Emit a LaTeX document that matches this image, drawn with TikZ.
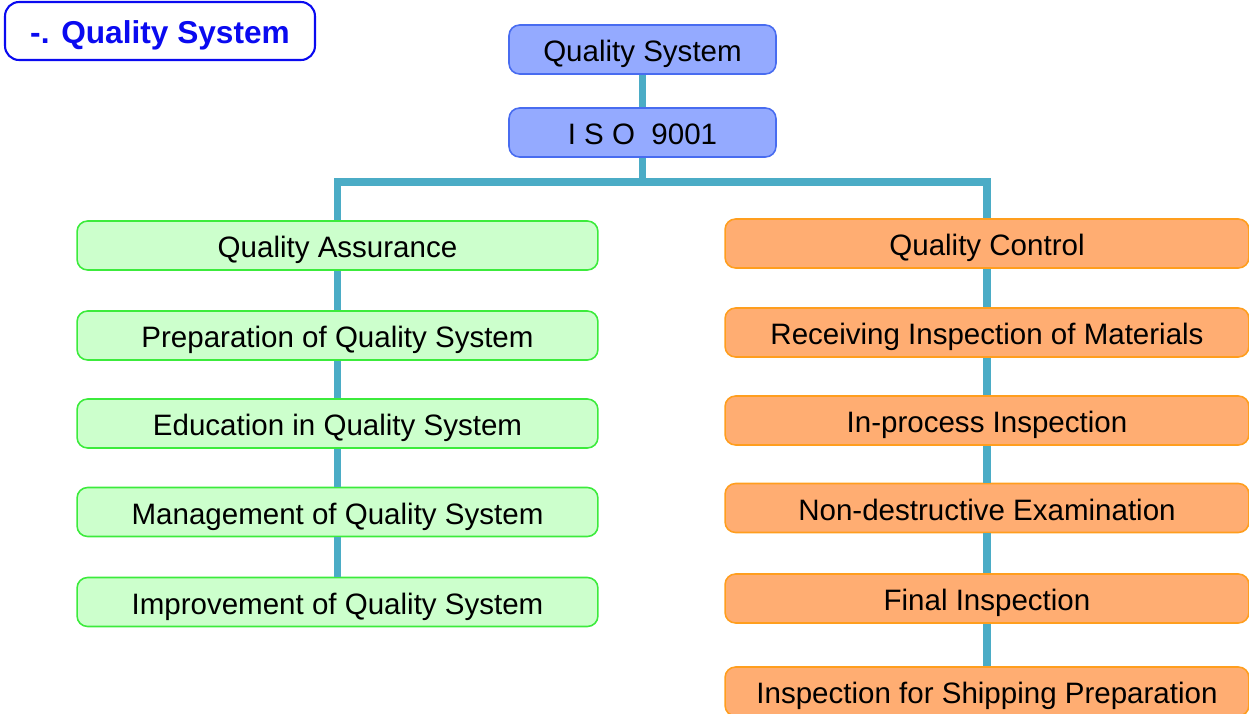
\documentclass[tikz,border=0pt]{standalone}
\usepackage{fontspec}
\setmainfont{Liberation Sans}
\usepackage{tikz}
\usetikzlibrary{calc}
\definecolor{topfill}{RGB}{148,170,255}
\definecolor{topline}{RGB}{72,108,240}
\definecolor{qafill}{RGB}{204,255,204}
\definecolor{qaline}{RGB}{60,235,60}
\definecolor{qcfill}{RGB}{255,173,114}
\definecolor{qcline}{RGB}{255,158,30}
\definecolor{linkcol}{RGB}{75,172,198}
\definecolor{titlecol}{RGB}{10,10,240}
\tikzset{
  box/.style={rectangle,rounded corners=6pt,line width=0.9pt,minimum height=0.98cm,
    font=\fontsize{16.8}{20}\selectfont,inner sep=0pt,text height=18pt,text depth=4pt},
  topbox/.style={box,fill=topfill,draw=topline,minimum width=5.34cm},
  qabox/.style={box,fill=qafill,draw=qaline,minimum width=10.42cm},
  qcbox/.style={box,fill=qcfill,draw=qcline,minimum width=10.48cm},
  link/.style={draw=linkcol,line width=4pt},
  title/.style={rectangle,rounded corners=8pt,draw=titlecol,line width=1.2pt,fill=white,
    minimum width=6.2cm,minimum height=1.16cm,text=titlecol,inner sep=0pt,
    text height=18pt,text depth=4pt,font=\fontsize{18}{22}\selectfont\bfseries}
}
\begin{document}
\begin{tikzpicture}[x=0.02cm,y=-0.02cm]
  \useasboundingbox (0,0) rectangle (1249,714);
  \node[title] (head) at (160,31) {-. Quality System};
  \node[topbox] (qs) at (642.5,49.5) {Quality System};
  \node[topbox] (iso) at (642.5,132.5) {I S O \ 9001};
  \node[qabox] (qa) at (337.5,245.5) {Quality Assurance};
  \node[qabox] (qa1) at (337.5,335.5) {Preparation of Quality System};
  \node[qabox] (qa2) at (337.5,423.5) {Education in Quality System};
  \node[qabox] (qa3) at (337.5,512) {Management of Quality System};
  \node[qabox] (qa4) at (337.5,602) {Improvement of Quality System};
  \node[qcbox] (qc) at (987,243.5) {Quality Control};
  \node[qcbox] (qc1) at (987,332.5) {Receiving Inspection of Materials};
  \node[qcbox] (qc2) at (987,420.5) {In-process Inspection};
  \node[qcbox] (qc3) at (987,508) {Non-destructive Examination};
  \node[qcbox] (qc4) at (987,598.5) {Final Inspection};
  \node[qcbox] (qc5) at (987,691.5) {Inspection for Shipping Preparation};
  \coordinate (bar) at (642.5,182);
  \draw[link] (qs) -- (iso);
  \draw[link] (iso) -- (bar);
  \draw[link] (qa) -- (qa |- bar) -- (qc |- bar) -- (qc);
  \foreach \a/\b in {qa/qa1,qa1/qa2,qa2/qa3,qa3/qa4,qc/qc1,qc1/qc2,qc2/qc3,qc3/qc4,qc4/qc5}
    \draw[link] (\a) -- (\b);
\end{tikzpicture}
\end{document}
